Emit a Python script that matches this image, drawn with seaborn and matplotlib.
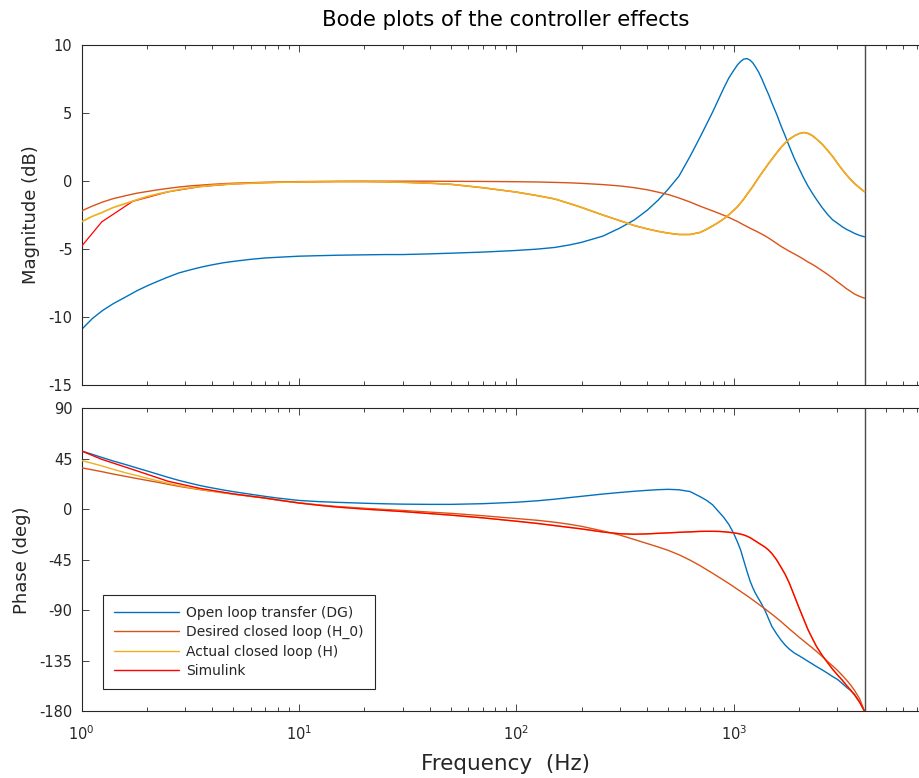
import matplotlib
matplotlib.use("Agg")
import matplotlib.pyplot as plt
from matplotlib.ticker import LogLocator, NullFormatter, FixedLocator
import pandas as pd
import seaborn as sns

# Frequency grid of the model responses (Hz)
freq_hz = [1, 1.12, 1.25, 1.4, 1.6, 1.8, 2, 2.25, 2.5, 2.8,
           3.2, 3.6, 4, 4.5, 5, 6, 7, 8, 10, 12.5,
           15, 20, 25, 30, 40, 50, 70, 100, 125, 150,
           175, 200, 250, 300, 350, 400, 450, 500, 560, 630,
           700, 750, 800, 850, 900, 950, 1000, 1040, 1075, 1110,
           1150, 1190, 1225, 1260, 1300, 1350, 1400, 1450, 1500, 1575,
           1650, 1725, 1800, 1900, 2000, 2100, 2200, 2300, 2400, 2550,
           2700, 2850, 3000, 3150, 3300, 3450, 3600, 3800, 4000]

# Magnitude (dB)
mag_dg = [-10.9, -10.1, -9.5, -9.0, -8.5, -8.05, -7.7, -7.35, -7.05, -6.75,
          -6.5, -6.3, -6.15, -6.0, -5.9, -5.75, -5.65, -5.6, -5.52, -5.48,
          -5.45, -5.42, -5.4, -5.4, -5.35, -5.3, -5.22, -5.1, -5.0, -4.88,
          -4.7, -4.5, -4.05, -3.45, -2.85, -2.15, -1.4, -0.6, 0.35, 1.8,
          3.2, 4.15, 5.05, 5.95, 6.8, 7.55, 8.1, 8.5, 8.75, 8.92,
          8.97, 8.85, 8.65, 8.35, 8.0, 7.45, 6.85, 6.3, 5.7, 4.9,
          4.05, 3.3, 2.55, 1.65, 0.9, 0.2, -0.4, -0.9, -1.35, -1.95,
          -2.45, -2.85, -3.1, -3.35, -3.55, -3.7, -3.85, -4.0, -4.1]
mag_h0 = [-2.2, -1.85, -1.55, -1.3, -1.08, -0.9, -0.78, -0.65, -0.55, -0.45,
          -0.36, -0.3, -0.25, -0.2, -0.17, -0.13, -0.1, -0.08, -0.05, -0.04,
          -0.03, -0.02, -0.02, -0.02, -0.02, -0.03, -0.04, -0.06, -0.08, -0.11,
          -0.14, -0.18, -0.27, -0.37, -0.5, -0.65, -0.83, -1.0, -1.25, -1.55,
          -1.85, -2.03, -2.2, -2.36, -2.52, -2.68, -2.85, -2.97, -3.1, -3.22,
          -3.35, -3.47, -3.57, -3.66, -3.77, -3.91, -4.05, -4.2, -4.35, -4.58,
          -4.8, -4.98, -5.15, -5.35, -5.55, -5.75, -5.95, -6.12, -6.3, -6.58,
          -6.85, -7.12, -7.4, -7.65, -7.9, -8.1, -8.3, -8.47, -8.6]
mag_h = [-3.0, -2.6, -2.3, -1.95, -1.65, -1.38, -1.15, -0.95, -0.8, -0.64,
         -0.5, -0.4, -0.32, -0.26, -0.22, -0.17, -0.13, -0.1, -0.08, -0.06,
         -0.05, -0.05, -0.07, -0.1, -0.17, -0.25, -0.5, -0.82, -1.08, -1.32,
         -1.65, -1.95, -2.5, -2.92, -3.28, -3.52, -3.7, -3.83, -3.93, -3.93,
         -3.78, -3.55, -3.3, -3.05, -2.78, -2.48, -2.15, -1.9, -1.62, -1.35,
         -1.0, -0.68, -0.4, -0.1, 0.22, 0.6, 0.95, 1.3, 1.6, 2.05,
         2.45, 2.78, 3.05, 3.3, 3.47, 3.55, 3.48, 3.32, 3.08, 2.7,
         2.25, 1.8, 1.3, 0.85, 0.45, 0.1, -0.2, -0.52, -0.8]

# Phase (deg)
phase_dg = [52, 49, 46, 43, 39.8, 36.8, 34.2, 31.2, 28.5, 25.8,
            23, 20.7, 19, 17.2, 15.7, 13.4, 11.5, 10.0, 7.9, 6.8,
            6.2, 5.4, 4.9, 4.6, 4.4, 4.4, 5.0, 6.3, 7.6, 9.0,
            10.4, 11.6, 13.6, 15.0, 16.1, 16.9, 17.5, 17.8, 17.4, 15.8,
            11.3, 8.0, 4.0, -1.8, -7.2, -13.5, -21.5, -29, -36, -45,
            -55, -64, -70, -75, -79.5, -85, -91, -98, -104.5, -111,
            -116.5, -121, -124.5, -128, -130.5, -133, -135.5, -137.8, -140, -143,
            -146, -149, -151.5, -155, -158.5, -161.5, -165, -172, -180]
phase_h0 = [37, 35.2, 33.4, 31.4, 29.3, 27.4, 25.8, 24, 22.3, 20.5,
            18.7, 17.2, 16, 14.7, 13.5, 11.6, 10.0, 8.2, 5.8, 3.8,
            2.5, 0.9, -0.2, -1.0, -2.5, -3.6, -5.7, -8.2, -9.8, -11.5,
            -13.3, -15.2, -19.3, -23, -27, -30.5, -33.6, -36.6, -40.5, -45.3,
            -50.2, -53.7, -57, -60.2, -63.2, -66.1, -69, -71.3, -73.1, -75,
            -77, -79, -80.8, -82.5, -84.5, -86.8, -89, -91.3, -93.5, -96.8,
            -100, -103.3, -106.5, -110.3, -114, -117.3, -120.5, -123.5, -126.5, -131,
            -135.5, -139.5, -143.5, -147.7, -152, -156.5, -161.5, -169, -180]
phase_h = [43.5, 41, 38.5, 35.6, 32.5, 30, 27.8, 25.3, 23.2, 21.2,
           19.1, 17.5, 16.2, 14.8, 13.6, 11.6, 10.0, 8.2, 5.6, 3.5,
           2.0, 0.2, -1.0, -2.0, -3.8, -5.2, -7.6, -10.6, -12.6, -14.5,
           -16.1, -17.5, -20.2, -21.8, -22.2, -21.9, -21.4, -21, -20.5, -20.1,
           -19.7, -19.6, -19.6, -19.7, -20, -20.4, -21, -21.5, -22.1, -22.8,
           -23.9, -25.3, -26.8, -28.3, -30, -32, -34, -36.5, -39.5, -45,
           -51.5, -58, -65.5, -77, -88, -98, -107.5, -115, -122, -130,
           -136.5, -142.5, -147.5, -152, -156.8, -161, -165.5, -172, -180]

# Simulink sweep: coarse points below 10 Hz, then the points from 10 Hz up
sim_freq_low = [1, 1.24, 1.72, 2.5, 3.5, 5, 7]
sim_mag_low = [-4.8, -3.0, -1.5, -0.8, -0.42, -0.22, -0.13]
sim_phase_low = [52, 44.5, 35.5, 25, 18.7, 13.7, 10.0]
sim_freq_hz = sim_freq_low + freq_hz[18:]
sim_mag = sim_mag_low + mag_h[18:]
sim_phase = sim_phase_low + phase_h[18:]

series_names = ["Open loop transfer (DG)", "Desired closed loop (H_0)",
                "Actual closed loop (H)", "Simulink"]
series_colors = ["#0072BD", "#D95319", "#EDB120", "#FF0000"]
nyquist_hz = 4000
freq_limits = (1, 8000)
mag_ticks = [-15, -10, -5, 0, 5, 10]
phase_ticks = [-180, -135, -90, -45, 0, 45, 90]

frames = []
for name, f, m, p in [(series_names[0], freq_hz, mag_dg, phase_dg),
                      (series_names[1], freq_hz, mag_h0, phase_h0),
                      (series_names[2], freq_hz, mag_h, phase_h),
                      (series_names[3], sim_freq_hz, sim_mag, sim_phase)]:
    frames.append(pd.DataFrame({"Frequency": f, "Magnitude": m,
                                "Phase": p, "Series": name}))
bode = pd.concat(frames, ignore_index=True)
palette = dict(zip(series_names, series_colors))

sns.set_style("ticks")
plt.rcParams["font.family"] = ["DejaVu Sans"]
plt.rcParams["axes.unicode_minus"] = False
plt.rcParams["mathtext.default"] = "regular"

ink = "#262626"
fig = plt.figure(figsize=(9.2, 7.78), dpi=100)
ax_mag = fig.add_axes([0.0886, 0.5045, 0.9223, 0.4383])
ax_ph = fig.add_axes([0.0886, 0.0857, 0.9223, 0.3895], sharex=ax_mag)

# drawing order and line widths per panel (last one ends up on top)
draw_order = {
    "Magnitude": [0, 1, 3, 2],
    "Phase": [0, 1, 2, 3],
}
line_widths = {
    "Magnitude": [1.0, 1.0, 1.25, 0.9],
    "Phase": [1.0, 1.0, 1.0, 1.0],
}

handles = {}
for ax, col in [(ax_mag, "Magnitude"), (ax_ph, "Phase")]:
    for z, idx in enumerate(draw_order[col]):
        name = series_names[idx]
        sub = bode[bode["Series"] == name]
        sns.lineplot(data=sub, x="Frequency", y=col, color=palette[name],
                     estimator=None, sort=False,
                     linewidth=line_widths[col][idx], legend=False,
                     ax=ax, zorder=2 + z)
        if col == "Phase":
            handles[name] = ax.get_lines()[-1]
    ax.axvline(nyquist_hz, color="#4a4a4a", linewidth=1.0, zorder=1)
    ax.set_xscale("log")
    ax.set_xlim(*freq_limits)
    ax.xaxis.set_major_locator(LogLocator(base=10, numticks=10))
    ax.xaxis.set_minor_locator(LogLocator(base=10, subs=range(2, 10), numticks=20))
    ax.xaxis.set_minor_formatter(NullFormatter())
    ax.tick_params(which="both", direction="in", top=True, right=True,
                   colors=ink, labelcolor=ink, width=0.6, labelsize=10.5)
    ax.tick_params(which="major", length=5)
    ax.tick_params(which="minor", length=3)
    ax.tick_params(axis="y", pad=6.5)
    ax.tick_params(axis="x", pad=9)
    for s in ax.spines.values():
        s.set_color(ink)
        s.set_linewidth(0.8)
    ax.grid(False)

ax_mag.set_ylim(-15, 10)
ax_mag.yaxis.set_major_locator(FixedLocator(mag_ticks))
ax_mag.set_ylabel("Magnitude (dB)", fontsize=13, color=ink, labelpad=6)
ax_mag.set_xlabel("")
ax_mag.tick_params(labelbottom=False)
ax_mag.set_title("Bode plots of the controller effects", fontsize=15.3,
                 color="black", pad=13)

ax_ph.set_ylim(-180, 90)
ax_ph.yaxis.set_major_locator(FixedLocator(phase_ticks))
ax_ph.set_ylabel("Phase (deg)", fontsize=13, color=ink, labelpad=6)
ax_ph.set_xlabel("Frequency  (Hz)", fontsize=15.5, color=ink, labelpad=8)

leg = ax_ph.legend([handles[n] for n in series_names], series_names,
                   loc="lower left",
                   bbox_to_anchor=(103 / 920, 1 - 689 / 778),
                   bbox_transform=fig.transFigure, borderaxespad=0,
                   fontsize=10, handlelength=4.7, handletextpad=0.5,
                   labelspacing=0.38, borderpad=0.8, fancybox=False,
                   framealpha=1, edgecolor=ink)
leg.get_frame().set_linewidth(0.8)
leg.set_zorder(20)
for t in leg.get_texts():
    t.set_color(ink)

fig.savefig("out.png", dpi=100)
